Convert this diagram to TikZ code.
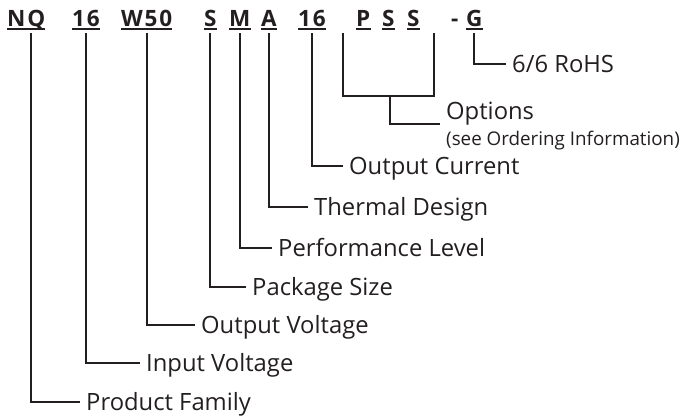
\documentclass[tikz,border=0pt]{standalone}
\usepackage{fontspec}
\setmainfont{Open Sans}
\newfontfamily\codefont[LetterSpace=8]{Open Sans}
\usepackage{tikz}
\usetikzlibrary{positioning}
\definecolor{inkblack}{RGB}{35,31,32}

\begin{document}
\begin{tikzpicture}[x=1pt, y=-1pt, inkblack,
    code/.style={anchor=base west, inner sep=0pt, outer ysep=7pt, text depth=0pt,
      font=\codefont\bfseries\fontsize{22.5}{23}\selectfont},
    desc/.style={anchor=west, inner xsep=6pt, inner ysep=0pt, text height=17pt, text depth=0pt,
      font=\fontsize{23.8}{26}\selectfont},
    lead/.style={line width=2pt},
    uline/.style={line width=1.2pt}]
\useasboundingbox (0,0) rectangle (681,416);

% part number codes
\node[code] (nq)   at (7,26)   {NQ};
\node[code] (vin)  at (72,26)  {16};
\node[code] (vout) at (121,26) {W50};
\node[code] (pkg)  at (204,26) {S};
\node[code] (perf) at (229,26) {M};
\node[code] (thm)  at (261,26) {A};
\node[code] (cur)  at (298,26) {16};
\node[code] (opa)  at (356,26) {P};
\node[code] (opb)  at (382,26) {S};
\node[code] (opc)  at (407,26) {S};
\node[code] (dash) at (451,26) {-};
\node[code] (rohs) at (466,26) {G};
\foreach \c in {nq,vin,vout,pkg,perf,thm,cur,opa,opb,opc,rohs}
  \draw[uline] ([yshift=4pt]\c.south west) -- ([yshift=4pt]\c.south east);

% descriptions
\node[desc] (lrohs) at (506,64)  {6/6 RoHS};
\node[desc, text height=, align=left] (lopts) at (440,124)
  {Options\\{\fontsize{18.8}{26}\selectfont(see Ordering Information)}};
\node[desc] (lcur)  at (343,166) {Output Current};
\node[desc] (lthm)  at (308,207) {Thermal Design};
\node[desc] (lperf) at (272,248) {Performance Level};
\node[desc] (lpkg)  at (246,287) {Package Size};
\node[desc] (lvout) at (195,325) {Output Voltage};
\node[desc] (lvin)  at (140,363) {Input Voltage};
\node[desc] (lnq)   at (80,402)  {Product Family};

% leaders
\draw[lead] ([xshift=5pt]nq.south) |- (lnq.west);
\draw[lead] (vin.south) |- (lvin.west);
\draw[lead] (vout.south) |- (lvout.west);
\draw[lead] (pkg.south) |- (lpkg.west);
\draw[lead] (perf.south) |- (lperf.west);
\draw[lead] (thm.south) |- (lthm.west);
\draw[lead] (cur.south) |- (lcur.west);
\draw[lead] (rohs.south) |- (lrohs.west);

% options bracket
\coordinate (brl) at ([xshift=-13pt]opa.south west);
\coordinate (brr) at ([xshift=14pt]opc.south east);
\coordinate (brmid) at (390,96);
\draw[lead] (brl) |- (brmid) -| (brr);
\draw[lead] (brmid) |- (lopts.west);
\end{tikzpicture}
\end{document}
